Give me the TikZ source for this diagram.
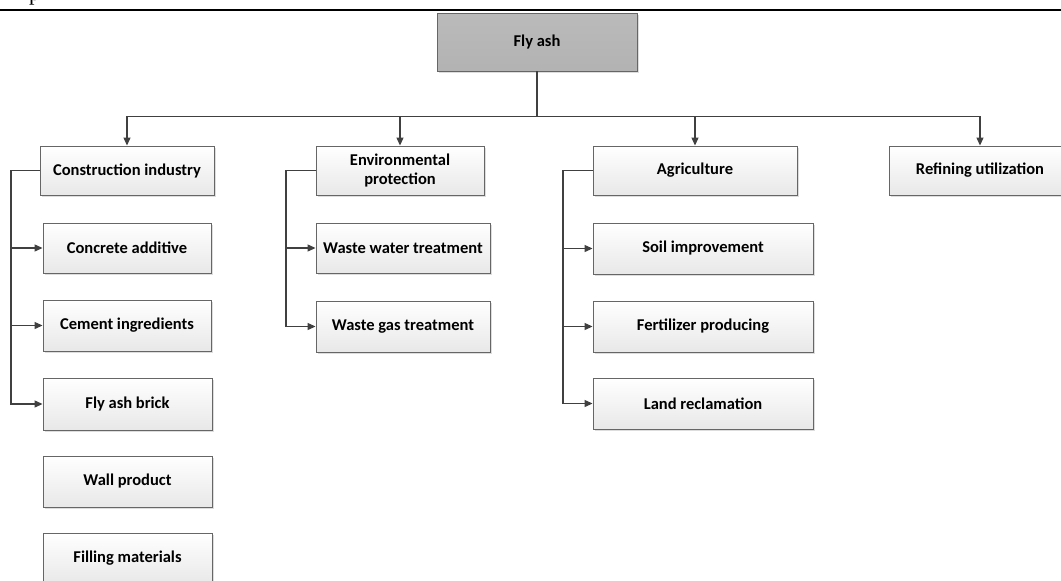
\documentclass[tikz,border=0pt]{standalone}
\usepackage{fontspec}
\setmainfont{Carlito}
\newfontfamily\serifp{Liberation Serif}
\usetikzlibrary{arrows.meta,shadows}
\begin{document}
\begin{tikzpicture}[x=1pt,y=-1pt,
  box/.style={draw=black!60, line width=0.9pt, top color=white, bottom color=black!9,
    font=\fontsize{16.5}{19}\selectfont\bfseries, align=center, inner sep=2pt,
    drop shadow={shadow xshift=1.6pt, shadow yshift=-1.6pt, fill=black!22, opacity=0.6}},
  rootbox/.style={box, top color=black!27, bottom color=black!30},
  conn/.style={draw=black!75, line width=1.2pt},
  arr/.style={conn, -{Triangle[length=8pt,width=7pt]}}]
\useasboundingbox (0,0) rectangle (1061,581);
\clip (0,0) rectangle (1061,581);
\fill[white] (0,0) rectangle (1061,581);
% top rule and cut-off text
\node[anchor=base west, inner sep=0pt, font=\serifp\fontsize{22}{24}\selectfont] (ptxt) at (29,0.8) {p};
\coordinate (rl) at (0,9.5);
\coordinate (rr) at (1061,9.5);
\draw[line width=2pt] (rl) -- (rr);
% nodes
\node[rootbox, minimum width=200, minimum height=58] (fly) at (537,42) {Fly ash};
\node[box, minimum width=174, minimum height=49] (ci) at (127,170.5) {Construction industry};
\node[box, minimum width=168, minimum height=50] (ca) at (127,248) {Concrete additive};
\node[box, minimum width=168, minimum height=51] (cem) at (127,325.5) {Cement ingredients};
\node[box, minimum width=169, minimum height=52] (brick) at (127.5,404) {Fly ash brick};
\node[box, minimum width=169, minimum height=51] (wall) at (127.5,481.5) {Wall product};
\node[box, minimum width=169, minimum height=51] (fillm) at (127.5,558.5) {Filling materials};
\node[box, minimum width=168, minimum height=49] (env) at (400,170.5) {Environmental\\protection};
\node[box, minimum width=174, minimum height=50] (ww) at (403,248) {Waste water treatment};
\node[box, minimum width=174, minimum height=51] (wg) at (403,326.5) {Waste gas treatment};
\node[box, minimum width=204, minimum height=49] (agr) at (695,170.5) {Agriculture};
\node[box, minimum width=220, minimum height=51] (soil) at (703,248.5) {Soil improvement};
\node[box, minimum width=220, minimum height=51] (fert) at (703,326.5) {Fertilizer producing};
\node[box, minimum width=220, minimum height=51] (land) at (703,403.5) {Land reclamation};
\node[box, minimum width=182, minimum height=49] (ref) at (980,170.5) {Refining utilization};
% connectors from root
\coordinate (bus) at (537,116.5);
\draw[conn] (fly.south) -- (bus);
\draw[arr] (bus) -| (ci.north);
\draw[arr] (bus) -| (env.north);
\draw[arr] (bus) -| (agr.north);
\draw[arr] (bus) -| (ref.north);
% construction branch
\coordinate (cl) at (11,170.5);
\draw[arr] (ci.west) -- (cl) |- (ca.west);
\draw[arr] (cl) |- (cem.west);
\draw[arr] (cl) |- (brick.west);
% environmental branch
\coordinate (el) at (286,170.5);
\draw[arr] (env.west) -- (el) |- (ww.west);
\draw[arr] (el) |- (wg.west);
% agriculture branch
\coordinate (al) at (563,170.5);
\draw[arr] (agr.west) -- (al) |- (soil.west);
\draw[arr] (al) |- (fert.west);
\draw[arr] (al) |- (land.west);
\end{tikzpicture}
\end{document}
